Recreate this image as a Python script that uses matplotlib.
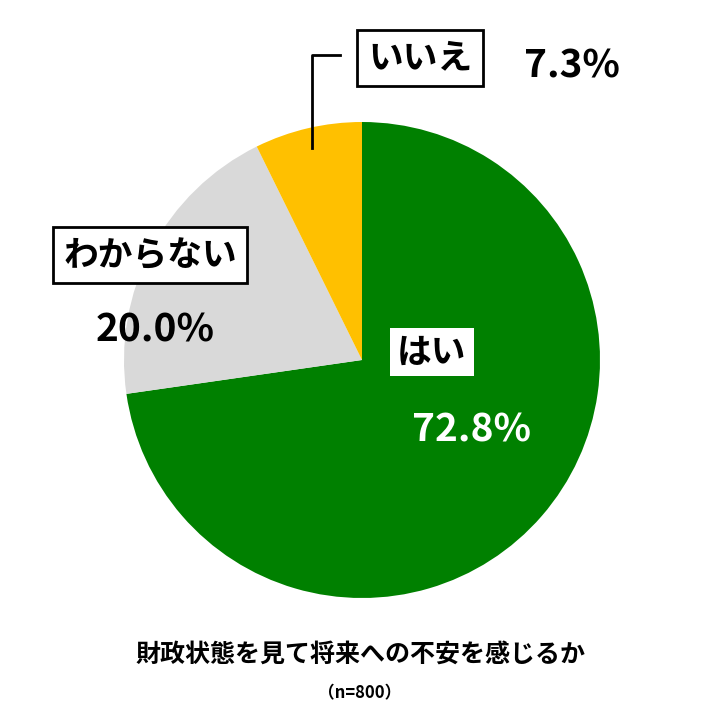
import matplotlib
matplotlib.use("Agg")
import matplotlib.pyplot as plt

labels = ["はい", "わからない", "いいえ"]
values = [72.8, 20.0, 7.3]
colors = ["#008000", "#d9d9d9", "#ffc000"]
title = "財政状態を見て将来への不安を感じるか"
note = "（n=800）"

plt.rcParams['font.family'] = ['Noto Sans CJK JP', 'DejaVu Sans']
fig = plt.figure(figsize=(7.2, 7.2), dpi=100)
ax = fig.add_axes([0, 0, 1, 1])

ax.pie(values, colors=colors, startangle=90, counterclock=False,
       center=(362, 360), radius=238, wedgeprops=dict(linewidth=0), frame=False)
ax.set_xlim(0, 720); ax.set_ylim(0, 720); ax.set_aspect('equal'); ax.axis('off')

Y = lambda y: 720 - y
ax.text(432, Y(352), labels[0], ha='center', va='center', fontsize=25, fontweight='bold',
        bbox=dict(boxstyle='square,pad=0.2', fc='white', ec='none'))
ax.text(472, Y(430), f"{values[0]:.1f}%", ha='center', va='center', fontsize=28,
        fontweight='bold', color='white')
ax.text(150, Y(255), labels[1], ha='center', va='center', fontsize=25, fontweight='bold',
        bbox=dict(boxstyle='square,pad=0.3', fc='white', ec='black', lw=2))
ax.text(155, Y(330), f"{values[1]:.1f}%", ha='center', va='center', fontsize=28,
        fontweight='bold', color='black')
ax.plot([312, 312, 340], [Y(148), Y(55), Y(55)], color='black', lw=2)
ax.text(420, Y(58), labels[2], ha='center', va='center', fontsize=25, fontweight='bold',
        bbox=dict(boxstyle='square,pad=0.3', fc='white', ec='black', lw=2))
ax.text(572, Y(66), f"{values[2]:.1f}%", ha='center', va='center', fontsize=28,
        fontweight='bold', color='black')

ax.text(360, Y(655), title, ha='center', va='center', fontsize=18, fontweight='bold')
ax.text(360, Y(693), note, ha='center', va='center', fontsize=12, fontweight='bold')

fig.savefig("out.png", dpi=100)
